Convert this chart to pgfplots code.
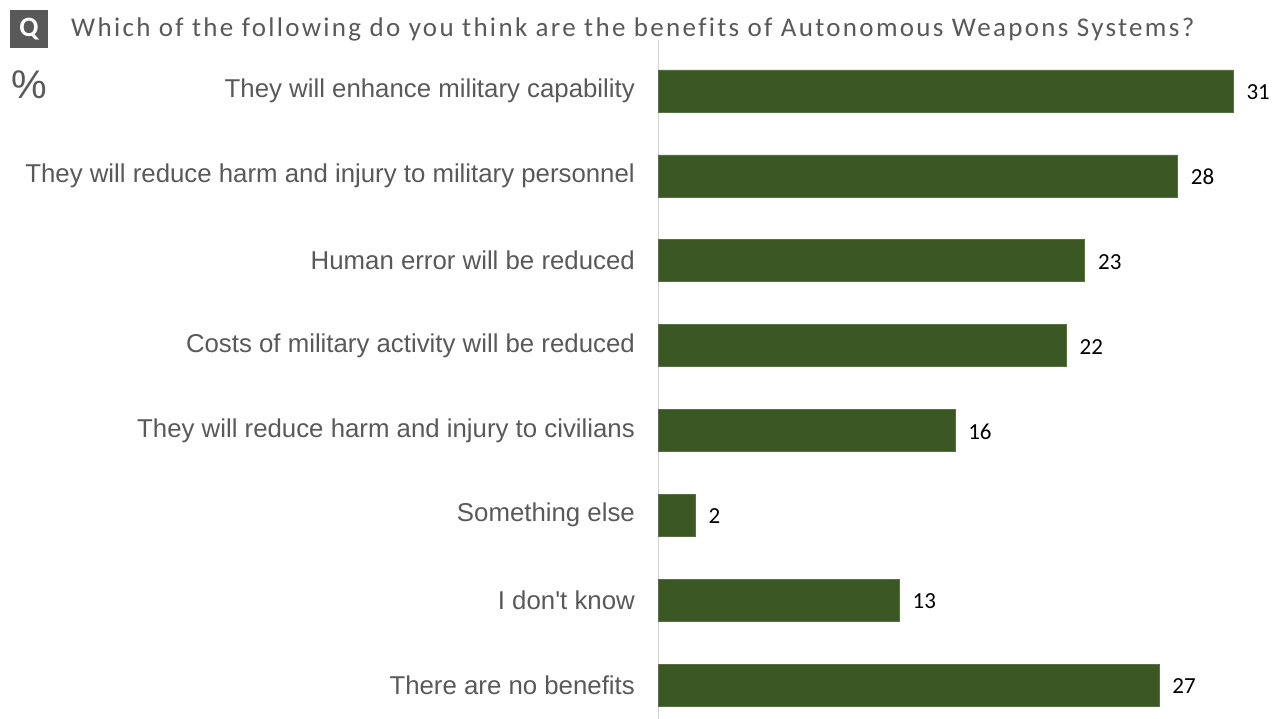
\documentclass[border=0pt]{standalone}
\usepackage{pgfplots}
\pgfplotsset{compat=1.18}
\usepackage{fontspec}
\setmainfont{Liberation Sans}
\newfontfamily\calfont{Carlito}
\newfontfamily\titlefont[LetterSpace=8.6,Ligatures={NoCommon,NoRequired}]{Carlito}
\newcommand{\sq}{\XeTeXglyph\XeTeXcharglyph"0027\relax}
\definecolor{bargreen}{RGB}{58,87,36}
\definecolor{labgray}{RGB}{89,89,89}
\begin{document}
\begin{tikzpicture}[x=1pt,y=1pt]
\path[use as bounding box] (0,0) rectangle (1284,719);
\begin{axis}[
  at={(658pt,0pt)}, anchor=south west,
  scale only axis, width=626pt, height=679pt,
  xbar, bar width=42pt,
  xmin=0, xmax=33.75,
  ymin=-0.6, ymax=7.4, y dir=reverse,
  axis x line=none,
  axis y line=left,
  axis line style={-, draw=gray!35, line width=1pt},
  ytick={0,1,2,3,4,5,6,7},
  yticklabels={They will enhance military capability,
    They will reduce harm and injury to military personnel,
    Human error will be reduced,
    Costs of military activity will be reduced,
    They will reduce harm and injury to civilians,
    Something else,
    I don\sq t know,
    There are no benefits},
  major tick length=0pt,
  yticklabel style={font=\fontsize{25.8}{30}\selectfont, text=labgray, inner sep=0pt, xshift=-23pt},
  nodes near coords,
  nodes near coords style={font=\calfont\fontsize{23}{27}\selectfont, text=black, anchor=west, xshift=10pt, yshift=-1pt},
  point meta=explicit symbolic,
  clip=false,
]
\addplot[fill=bargreen, draw=bargreen!85!white] coordinates {
  (31,0) [31] (28,1) [28] (23,2) [23] (22,3) [22] (16,4) [16] (2,5) [2] (13,6) [13] (27,7) [27]
};
\end{axis}
\fill[labgray] (10,671) rectangle (48,709);
\node[text=white, font=\calfont\bfseries\fontsize{28}{32}\selectfont] at (29,690) {Q};
\node[anchor=base west, inner sep=0pt, text=labgray, font=\titlefont\fontsize{27}{31}\selectfont] at (71,682) {Which of the following do you think are the benefits of Autonomous Weapons Systems?};
\node[anchor=base west, inner sep=0pt, text=labgray, font=\fontsize{40}{44}\selectfont] at (11,620) {\%};
\end{tikzpicture}
\end{document}
